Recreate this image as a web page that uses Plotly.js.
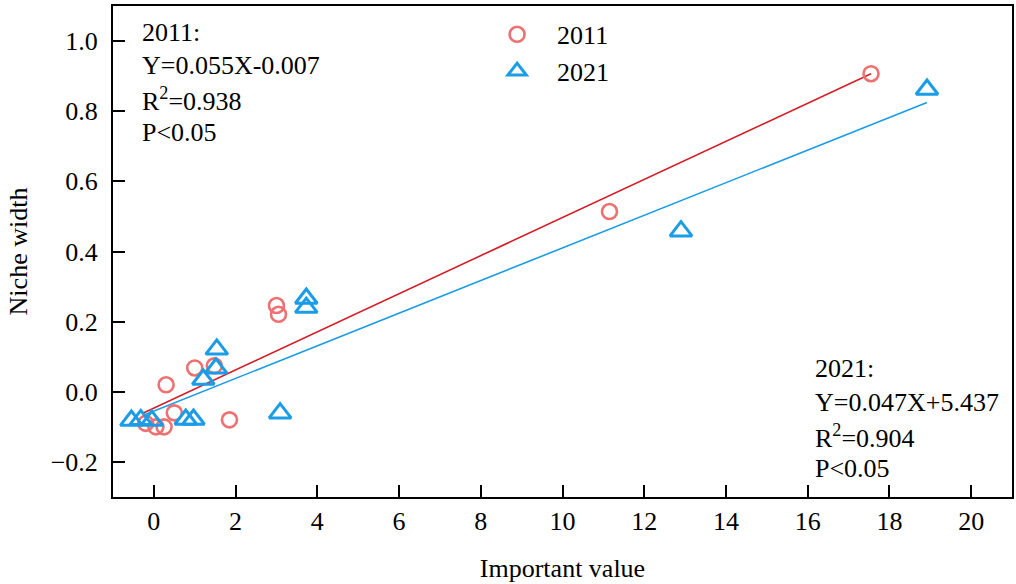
<!DOCTYPE html>
<html>
<head>
<meta charset="utf-8">
<script src="https://cdn.plot.ly/plotly-3.0.1.min.js"></script>
<style>html,body{margin:0;padding:0;background:#fff;}#chart{width:1016px;height:584px;}</style>
</head>
<body>
<div id="chart"></div>
<script>
// 2011 observations
const x2011 = [17.55, 11.15, 3.0, 3.05, 0.3, 1.0, 1.48, 0.5, 1.85, -0.2, 0.05, 0.25];
const y2011 = [0.907, 0.514, 0.246, 0.221, 0.02, 0.068, 0.074, -0.06, -0.08, -0.09, -0.1, -0.1];
// 2021 observations
const x2021 = [18.92, 12.9, 3.73, 3.73, 3.09, 1.54, 1.52, 1.21, 0.78, 0.97, -0.55, -0.32, -0.05];
const y2021 = [0.862, 0.458, 0.266, 0.240, -0.061, 0.121, 0.067, 0.035, -0.079, -0.079, -0.082, -0.080, -0.082];
// fitted lines (end points)
const fit2011X = [-0.27, 17.55];
const fit2011Y = [-0.061, 0.907];
const fit2021X = [-0.24, 18.92];
const fit2021Y = [-0.066, 0.825];
// tick labels
const xTicks = [0, 2, 4, 6, 8, 10, 12, 14, 16, 18, 20];
const yTicks = [-0.2, 0.0, 0.2, 0.4, 0.6, 0.8, 1.0];
const yTickText = ['\u22120.2', '0.0', '0.2', '0.4', '0.6', '0.8', '1.0'];
// text
const eq2011 = ['2011:', 'Y=0.055X-0.007', 'R<sup>2</sup>=0.938', 'P<0.05'];
const eq2021 = ['2021:', 'Y=0.047X+5.437', 'R<sup>2</sup>=0.904', 'P<0.05'];

const FONT = '"Liberation Serif", "Times New Roman", serif';
const RED_PT = 'rgb(238,112,112)';
const RED_LN = 'rgb(212,30,40)';
const BLUE = 'rgb(26,156,230)';

const traces = [
  {x: fit2011X, y: fit2011Y, mode: 'lines', line: {color: RED_LN, width: 1.6}, showlegend: false, hoverinfo: 'skip'},
  {x: fit2021X, y: fit2021Y, mode: 'lines', line: {color: BLUE, width: 1.6}, showlegend: false, hoverinfo: 'skip'},
  {x: x2011, y: y2011, mode: 'markers', name: '2011',
   marker: {symbol: 'circle-open', size: 15, color: RED_PT, line: {color: RED_PT, width: 2.6}}},
  {x: x2021, y: y2021, mode: 'markers', name: '2021',
   marker: {symbol: 'triangle-up-open', size: 19, color: BLUE, line: {color: BLUE, width: 3}}}
];

const annotations = [];
const y11 = [33, 66, 99, 132];
const y21 = [368, 402, 436, 468];
const plotTop = 6, plotH = 491, plotL = 113, plotW = 899;
eq2011.forEach((t, i) => annotations.push({
  xref: 'paper', yref: 'paper', x: (140 - plotL) / plotW, y: 1 - (y11[i] - plotTop) / plotH,
  xanchor: 'left', yanchor: 'middle', text: t, showarrow: false, font: {family: FONT, size: 26, color: '#000'}
}));
eq2021.forEach((t, i) => annotations.push({
  xref: 'paper', yref: 'paper', x: (813 - plotL) / plotW, y: 1 - (y21[i] - plotTop) / plotH,
  xanchor: 'left', yanchor: 'middle', text: t, showarrow: false, font: {family: FONT, size: 26, color: '#000'}
}));

const axisCommon = {
  showgrid: false, zeroline: false, showline: true, linecolor: '#000', linewidth: 2,
  mirror: true, ticks: 'inside', ticklen: 12, tickwidth: 2, tickcolor: '#000',
  tickfont: {family: FONT, size: 26, color: '#000'}
};

const layout = {
  width: 1016, height: 584,
  margin: {l: 113, r: 4, t: 6, b: 87},
  paper_bgcolor: '#fff', plot_bgcolor: '#fff',
  font: {family: FONT, color: '#000'},
  xaxis: Object.assign({}, axisCommon, {
    range: [-1, 21], tickvals: xTicks, ticktext: xTicks.map(String), ticklabelstandoff: 0,
    title: {text: 'Important value', font: {family: FONT, size: 26, color: '#000'}, standoff: 24}
  }),
  yaxis: Object.assign({}, axisCommon, {
    range: [-0.3, 1.1], tickvals: yTicks, ticktext: yTickText, ticklabelstandoff: 8,
    title: {text: 'Niche width', font: {family: FONT, size: 26, color: '#000'}, standoff: 16}
  }),
  legend: {
    x: 0.405, y: 0.99, xanchor: 'left', yanchor: 'top', bgcolor: 'rgba(0,0,0,0)', itemwidth: 70,
    font: {family: FONT, size: 26, color: '#000'}, tracegroupgap: 0
  },
  annotations: annotations
};

Plotly.newPlot('chart', traces, layout, {displayModeBar: false, staticPlot: true});
</script>
</body>
</html>
